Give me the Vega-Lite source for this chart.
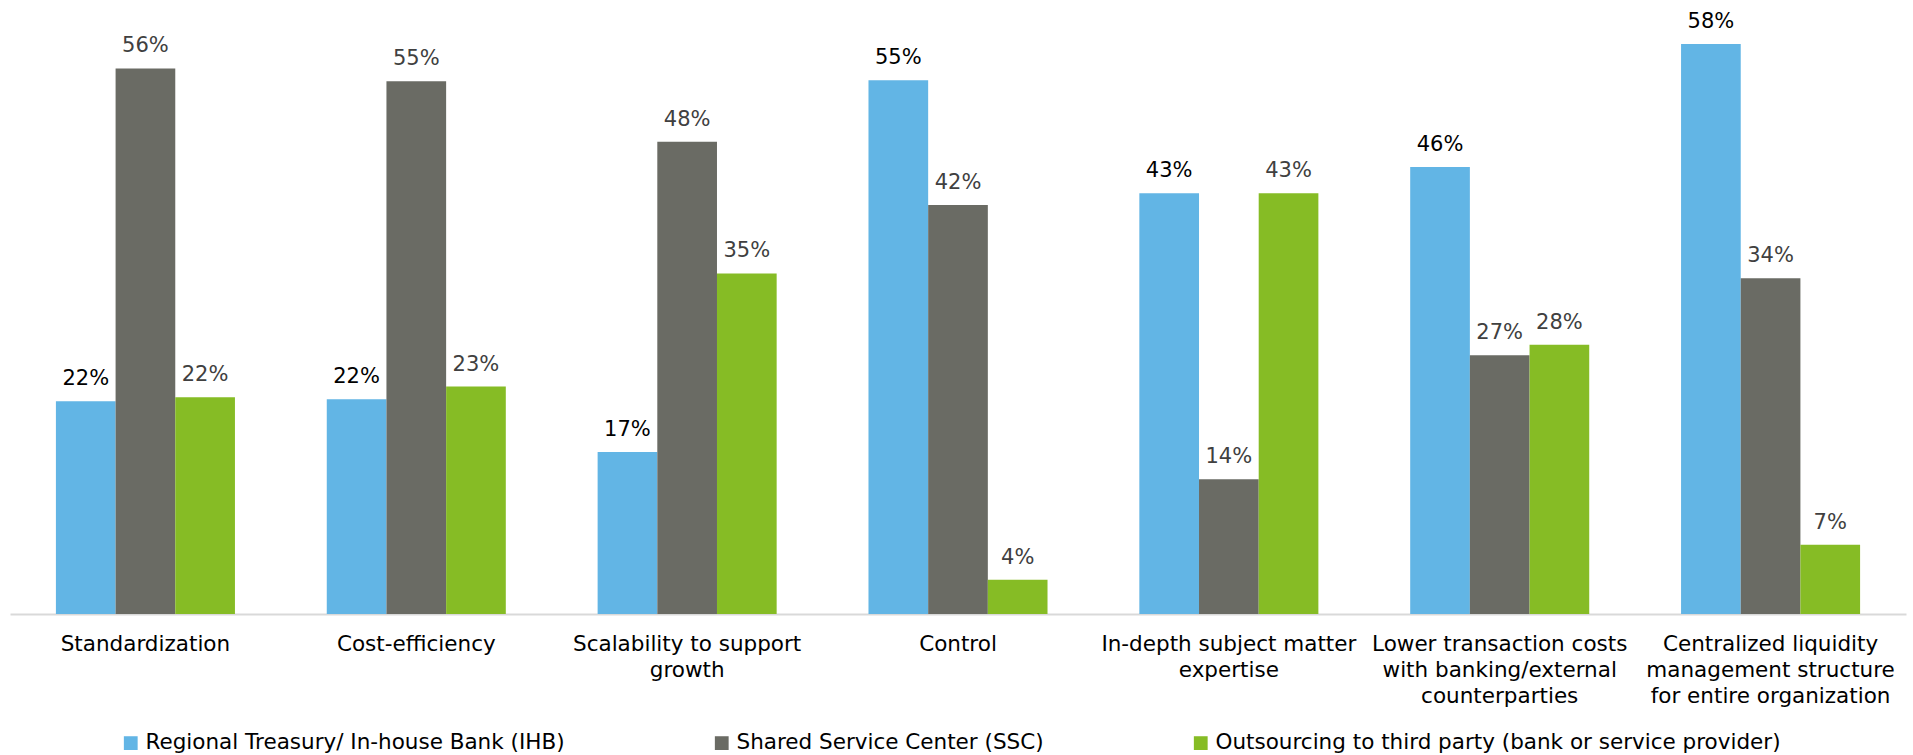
{
  "$schema": "https://vega.github.io/schema/vega-lite/v6.json",
  "width": 1896,
  "height": 609,
  "padding": {"left": 10, "top": 5, "right": 7, "bottom": 0},
  "autosize": {"type": "pad"},
  "config": {
    "font": "DejaVu Sans",
    "view": {"stroke": null}
  },
  "data": {
    "values": [
      {"category": "Standardization", "series": "Regional Treasury/ In-house Bank (IHB)", "value": 0.218},
      {"category": "Standardization", "series": "Shared Service Center (SSC)", "value": 0.559},
      {"category": "Standardization", "series": "Outsourcing to third party (bank or service provider)", "value": 0.222},
      {"category": "Cost-efficiency", "series": "Regional Treasury/ In-house Bank (IHB)", "value": 0.220},
      {"category": "Cost-efficiency", "series": "Shared Service Center (SSC)", "value": 0.546},
      {"category": "Cost-efficiency", "series": "Outsourcing to third party (bank or service provider)", "value": 0.233},
      {"category": "Scalability to support growth", "series": "Regional Treasury/ In-house Bank (IHB)", "value": 0.166},
      {"category": "Scalability to support growth", "series": "Shared Service Center (SSC)", "value": 0.484},
      {"category": "Scalability to support growth", "series": "Outsourcing to third party (bank or service provider)", "value": 0.349},
      {"category": "Control", "series": "Regional Treasury/ In-house Bank (IHB)", "value": 0.547},
      {"category": "Control", "series": "Shared Service Center (SSC)", "value": 0.419},
      {"category": "Control", "series": "Outsourcing to third party (bank or service provider)", "value": 0.035},
      {"category": "In-depth subject matter expertise", "series": "Regional Treasury/ In-house Bank (IHB)", "value": 0.431},
      {"category": "In-depth subject matter expertise", "series": "Shared Service Center (SSC)", "value": 0.138},
      {"category": "In-depth subject matter expertise", "series": "Outsourcing to third party (bank or service provider)", "value": 0.431},
      {"category": "Lower transaction costs with banking/external counterparties", "series": "Regional Treasury/ In-house Bank (IHB)", "value": 0.458},
      {"category": "Lower transaction costs with banking/external counterparties", "series": "Shared Service Center (SSC)", "value": 0.265},
      {"category": "Lower transaction costs with banking/external counterparties", "series": "Outsourcing to third party (bank or service provider)", "value": 0.276},
      {"category": "Centralized liquidity management structure for entire organization", "series": "Regional Treasury/ In-house Bank (IHB)", "value": 0.584},
      {"category": "Centralized liquidity management structure for entire organization", "series": "Shared Service Center (SSC)", "value": 0.344},
      {"category": "Centralized liquidity management structure for entire organization", "series": "Outsourcing to third party (bank or service provider)", "value": 0.071}
    ]
  },
  "encoding": {
    "x": {
      "field": "category",
      "type": "nominal",
      "sort": null,
      "scale": {"paddingInner": 0.339, "paddingOuter": 0.1695},
      "axis": {
        "title": null,
        "labelAngle": 0,
        "ticks": false,
        "domainColor": "#D9D9D9",
        "domainWidth": 2,
        "labelFontSize": 21.5,
        "labelColor": "#000000",
        "labelPadding": 19,
        "labelBaseline": "top",
        "labelLineHeight": 26,
        "labelLimit": 0,
        "labelExpr": "datum.label == 'Scalability to support growth' ? ['Scalability to support', 'growth'] : datum.label == 'In-depth subject matter expertise' ? ['In-depth subject matter', 'expertise'] : datum.label == 'Lower transaction costs with banking/external counterparties' ? ['Lower transaction costs', 'with banking/external', 'counterparties'] : datum.label == 'Centralized liquidity management structure for entire organization' ? ['Centralized liquidity', 'management structure', 'for entire organization'] : datum.label"
      }
    },
    "xOffset": {
      "field": "series",
      "type": "nominal",
      "sort": ["Regional Treasury/ In-house Bank (IHB)", "Shared Service Center (SSC)", "Outsourcing to third party (bank or service provider)"],
      "scale": {"paddingInner": 0, "paddingOuter": 0}
    },
    "y": {
      "field": "value",
      "type": "quantitative",
      "scale": {"domain": [0, 0.624], "nice": false},
      "axis": null
    }
  },
  "layer": [
    {
      "mark": {"type": "bar"},
      "encoding": {
        "color": {
          "field": "series",
          "type": "nominal",
          "scale": {
            "domain": ["Regional Treasury/ In-house Bank (IHB)", "Shared Service Center (SSC)", "Outsourcing to third party (bank or service provider)"],
            "range": ["#62B5E5", "#6A6B64", "#86BC25"]
          },
          "legend": {
            "title": null,
            "orient": "none",
            "legendX": 110,
            "legendY": 727,
            "direction": "horizontal",
            "symbolType": "square",
            "symbolSize": 190,
            "symbolStrokeWidth": 0,
            "labelFontSize": 21.5,
            "labelColor": "#000000",
            "labelOffset": 4,
            "labelLimit": 0,
            "columnPadding": 146
          }
        }
      }
    },
    {
      "mark": {"type": "text", "baseline": "alphabetic", "dy": -16, "fontSize": 21},
      "encoding": {
        "text": {"field": "value", "type": "quantitative", "format": ".0%"},
        "color": {
          "condition": {"test": "datum.series == 'Regional Treasury/ In-house Bank (IHB)'", "value": "#000000"},
          "value": "#404040"
        }
      }
    }
  ]
}
